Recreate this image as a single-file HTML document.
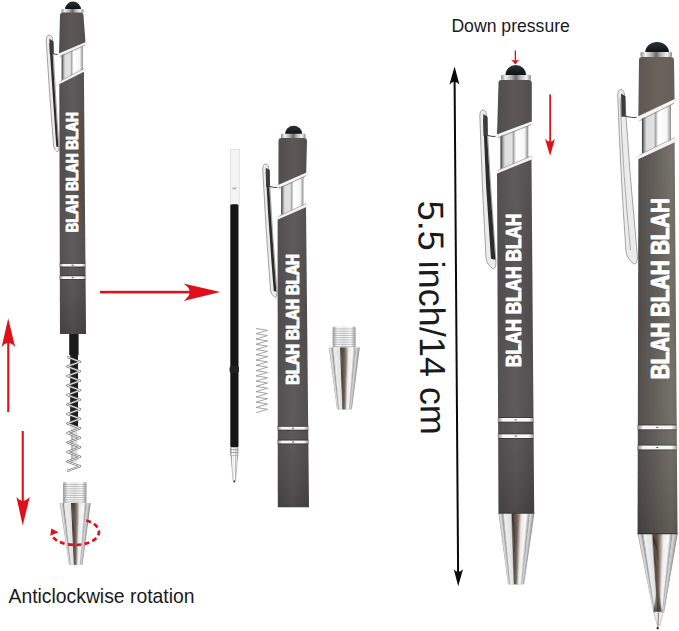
<!DOCTYPE html>
<html><head><meta charset="utf-8">
<style>
html,body{margin:0;padding:0;background:#fff;}
body{width:679px;height:631px;overflow:hidden;position:relative;}
svg{position:absolute;left:0;top:0;}
text{font-family:"Liberation Sans",sans-serif;}
</style></head>
<body>
<svg width="679" height="631" viewBox="0 0 679 631">
<defs>

  <linearGradient id="chrome" x1="0" y1="0" x2="1" y2="0">
    <stop offset="0" stop-color="#5a5a5a"/>
    <stop offset="0.1" stop-color="#bdbdbd"/>
    <stop offset="0.25" stop-color="#ffffff"/>
    <stop offset="0.42" stop-color="#e4e4e4"/>
    <stop offset="0.55" stop-color="#ffffff"/>
    <stop offset="0.7" stop-color="#b5b5b5"/>
    <stop offset="0.82" stop-color="#f6f6f6"/>
    <stop offset="1" stop-color="#707070"/>
  </linearGradient>
  <linearGradient id="inner" x1="0" y1="0" x2="1" y2="0">
    <stop offset="0" stop-color="#2e2e2e"/>
    <stop offset="0.08" stop-color="#9a9a9a"/>
    <stop offset="0.16" stop-color="#dedede"/>
    <stop offset="0.4" stop-color="#e2e2e2"/>
    <stop offset="0.47" stop-color="#a8a8a8"/>
    <stop offset="0.56" stop-color="#ffffff"/>
    <stop offset="0.86" stop-color="#f6f6f6"/>
    <stop offset="1" stop-color="#8a8a8a"/>
  </linearGradient>
  <linearGradient id="ring" x1="0" y1="0" x2="1" y2="0">
    <stop offset="0" stop-color="#8a8a8a"/>
    <stop offset="0.15" stop-color="#f6f6f6"/>
    <stop offset="0.85" stop-color="#f6f6f6"/>
    <stop offset="1" stop-color="#9a9a9a"/>
  </linearGradient>
  <linearGradient id="cone" x1="0" y1="0" x2="1" y2="0">
    <stop offset="0" stop-color="#9a9a9a"/>
    <stop offset="0.07" stop-color="#e6e6e6"/>
    <stop offset="0.13" stop-color="#9a9a9a"/>
    <stop offset="0.18" stop-color="#f0f0f0"/>
    <stop offset="0.34" stop-color="#e0e0e0"/>
    <stop offset="0.41" stop-color="#7a6656"/>
    <stop offset="0.47" stop-color="#5a4a40"/>
    <stop offset="0.54" stop-color="#9a8c80"/>
    <stop offset="0.63" stop-color="#f4f4f4"/>
    <stop offset="0.8" stop-color="#ffffff"/>
    <stop offset="0.9" stop-color="#c8c8c8"/>
    <stop offset="1" stop-color="#808080"/>
  </linearGradient>
  <linearGradient id="thread" x1="0" y1="0" x2="1" y2="0">
    <stop offset="0" stop-color="#9a9a9a"/>
    <stop offset="0.2" stop-color="#f8f8f8"/>
    <stop offset="0.5" stop-color="#e8e8e8"/>
    <stop offset="0.8" stop-color="#fcfcfc"/>
    <stop offset="1" stop-color="#9a9a9a"/>
  </linearGradient>
  <linearGradient id="stylus" x1="0" y1="0" x2="0" y2="1">
    <stop offset="0" stop-color="#2c3238"/>
    <stop offset="1" stop-color="#0e1216"/>
  </linearGradient>
  <linearGradient id="body" x1="0" y1="0" x2="1" y2="0">
    <stop offset="0" stop-color="#4f4b4c"/>
    <stop offset="0.5" stop-color="#5b5758"/>
    <stop offset="1" stop-color="#4d494a"/>
  </linearGradient>
  <linearGradient id="body4" x1="0" y1="0" x2="1" y2="0">
    <stop offset="0" stop-color="#4a4643"/>
    <stop offset="0.08" stop-color="#534d4a"/>
    <stop offset="0.4" stop-color="#5f5a55"/>
    <stop offset="0.85" stop-color="#726e66"/>
    <stop offset="1" stop-color="#68645d"/>
  </linearGradient>
  <linearGradient id="upper" x1="0" y1="0" x2="1" y2="0">
    <stop offset="0" stop-color="#524d4d"/>
    <stop offset="0.5" stop-color="#5d5857"/>
    <stop offset="1" stop-color="#534e4e"/>
  </linearGradient>
  <linearGradient id="upper4" x1="0" y1="0" x2="1" y2="0">
    <stop offset="0" stop-color="#5e5751"/>
    <stop offset="0.5" stop-color="#6a625b"/>
    <stop offset="1" stop-color="#675f58"/>
  </linearGradient>
  <linearGradient id="ringtop" x1="0" y1="0" x2="1" y2="0">
    <stop offset="0" stop-color="#8a8a8a"/>
    <stop offset="0.15" stop-color="#f2f2f2"/>
    <stop offset="0.35" stop-color="#b0b0b0"/>
    <stop offset="0.5" stop-color="#6a6a6a"/>
    <stop offset="0.65" stop-color="#b8b8b8"/>
    <stop offset="0.85" stop-color="#f2f2f2"/>
    <stop offset="1" stop-color="#8a8a8a"/>
  </linearGradient>
  <linearGradient id="vshade" x1="0" y1="0" x2="0" y2="1">
    <stop offset="0" stop-color="#ffffff" stop-opacity="0.03"/>
    <stop offset="0.45" stop-color="#ffffff" stop-opacity="0"/>
    <stop offset="1" stop-color="#000000" stop-opacity="0.16"/>
  </linearGradient>

</defs>
<g id="p1">
<path d="M46.2,40.12 Q46.5,35 49.4,35 Q52.6,35.3 52.6,41.4 Q55.2,93.5 59,148.76 Q58.7,152 57.38,152 Q54.14,149.84 53.6,146.06 Q49.3,93.5 46.2,40.12 Z" fill="#ececec" stroke="#808080" stroke-width="0.7"/>
<path d="M49.4,43.32 L52.1,43.32 Q54.7,93.5 58.4,147.14 L56.3,146.6 Q52.5,93.5 49.4,43.32 Z" fill="#2c2c2c"/>
<path d="M49.4,38.84 L53.6,41.4 L53.8,53 L49.72,54 Z" fill="#3c3c3c"/>
<path d="M51.6,53 Q55.8,55 60.5,54.5" stroke="#444" stroke-width="1" fill="none"/>
<path d="M65,9.5 A8,7.9 0 0 1 81,9.5 Z" fill="url(#stylus)"/>
<rect x="61.5" y="9" width="22" height="4" rx="1.2" fill="url(#ringtop)"/>
<path d="M60,15.5 Q60,12.5 63,12.5 L80.5,12.5 Q83.5,12.5 83.5,15.5 L85.5,42.7 L59,54.2 Z" fill="url(#upper)"/>
<path d="M61.65,53.14 L82.85,44.82 L82.85,71.5 L61.65,84.4 Z" fill="url(#inner)"/>
<path d="M59.3,83.4 L83.9,70.5 L86,334 L60,334 Z" fill="url(#body)"/>
<path d="M59.3,83.4 L83.9,70.5 L86,334 L60,334 Z" fill="url(#vshade)"/>
<path d="M58.7,54.95 L85.8,43.45" stroke="#f4f4f4" stroke-width="2.5" stroke-linecap="round"/>
<path d="M60,56.58 L85,45.08" stroke="#7a7a7a" stroke-width="0.7"/>
<path d="M59,82.9 L84.9,70" stroke="#f2f2f2" stroke-width="2.5" stroke-linecap="round"/>
<path d="M60.3,81.28 L83.9,68.38" stroke="#888" stroke-width="0.6"/>
<rect x="59.41" y="263.75" width="26.42" height="2.9" fill="url(#ring)"/>
<rect x="59.81" y="263.05" width="25.62" height="0.7" fill="#2a2a2a" opacity="0.7"/>
<rect x="59.81" y="266.65" width="25.62" height="0.7" fill="#2a2a2a" opacity="0.7"/>
<rect x="71.62" y="264.7" width="2" height="1" fill="#555"/>
<rect x="59.44" y="276.15" width="26.48" height="2.9" fill="url(#ring)"/>
<rect x="59.84" y="275.45" width="25.68" height="0.7" fill="#2a2a2a" opacity="0.7"/>
<rect x="59.84" y="279.05" width="25.68" height="0.7" fill="#2a2a2a" opacity="0.7"/>
<rect x="71.68" y="277.1" width="2" height="1" fill="#555"/>
<text transform="translate(78.05,171.8) rotate(-90) scale(0.82,1)" text-anchor="middle" font-weight="bold" font-size="16.5" fill="#fff" stroke="#fff" stroke-width="0.35">BLAH BLAH BLAH</text>
<text transform="translate(78.05,172.7) rotate(-90) scale(0.82,1)" text-anchor="middle" font-weight="bold" font-size="16.5" fill="#fff" stroke="#fff" stroke-width="0.35">BLAH BLAH BLAH</text>
</g>
<g id="p2">
<path d="M262.7,168.88 Q263,164 265.75,164 Q268.8,164.3 268.8,170.1 Q272.1,230.75 277,293.6 Q276.7,297.5 275.05,297.5 Q271.15,294.9 270.5,290.35 Q265.8,230.75 262.7,168.88 Z" fill="#ececec" stroke="#808080" stroke-width="0.7"/>
<path d="M265.75,171.93 L268.3,171.93 Q271.6,230.75 276.4,291.65 L273.75,291 Q268.85,230.75 265.75,171.93 Z" fill="#2c2c2c"/>
<path d="M265.75,167.66 L269.8,170.1 L270,186 L266.06,187 Z" fill="#3c3c3c"/>
<path d="M267.8,186 Q273.6,188 279.9,187.5" stroke="#444" stroke-width="1" fill="none"/>
<path d="M285,134.2 A8.65,8.4 0 0 1 302.3,134.2 Z" fill="url(#stylus)"/>
<rect x="281" y="133.8" width="24.5" height="4.7" rx="1.2" fill="url(#ringtop)"/>
<path d="M278.5,141 Q278.5,138 281.5,138 L304,138 Q307,138 307,141 L306.2,173.2 L278.4,185.6 Z" fill="url(#upper)"/>
<path d="M281.18,184.49 L303.42,175.42 L303.42,206.9 L281.18,219.8 Z" fill="url(#inner)"/>
<path d="M277.6,218.8 L306,205.9 L309,507.3 L277.8,507.3 Z" fill="url(#body)"/>
<path d="M277.6,218.8 L306,205.9 L309,507.3 L277.8,507.3 Z" fill="url(#vshade)"/>
<path d="M278.1,186.44 L306.5,174.04" stroke="#f4f4f4" stroke-width="2.8" stroke-linecap="round"/>
<path d="M279.4,188.26 L305.7,175.86" stroke="#7a7a7a" stroke-width="0.7"/>
<path d="M277.3,218.24 L307,205.34" stroke="#f2f2f2" stroke-width="2.8" stroke-linecap="round"/>
<path d="M278.6,216.42 L306,203.52" stroke="#888" stroke-width="0.6"/>
<rect x="277.35" y="426.6" width="31.23" height="3.2" fill="url(#ring)"/>
<rect x="277.75" y="425.9" width="30.43" height="0.7" fill="#2a2a2a" opacity="0.7"/>
<rect x="277.75" y="429.8" width="30.43" height="0.7" fill="#2a2a2a" opacity="0.7"/>
<rect x="291.96" y="427.7" width="2" height="1" fill="#555"/>
<rect x="277.35" y="440.4" width="31.37" height="3.2" fill="url(#ring)"/>
<rect x="277.75" y="439.7" width="30.57" height="0.7" fill="#2a2a2a" opacity="0.7"/>
<rect x="277.75" y="443.6" width="30.57" height="0.7" fill="#2a2a2a" opacity="0.7"/>
<rect x="292.04" y="441.5" width="2" height="1" fill="#555"/>
<text transform="translate(299.45,318.9) rotate(-90) scale(0.79,1)" text-anchor="middle" font-weight="bold" font-size="18.6" fill="#fff" stroke="#fff" stroke-width="0.35">BLAH BLAH BLAH</text>
<text transform="translate(299.45,319.8) rotate(-90) scale(0.79,1)" text-anchor="middle" font-weight="bold" font-size="18.6" fill="#fff" stroke="#fff" stroke-width="0.35">BLAH BLAH BLAH</text>
</g>
<g id="p3">
<path d="M479.8,115.44 Q480.1,110 483.2,110 Q486.6,110.3 486.6,116.8 Q490.5,189.4 496,262.8 Q495.7,268.8 493,268.8 Q487,264.8 486,257.8 Q482.1,189.4 479.8,115.44 Z" fill="#ececec" stroke="#808080" stroke-width="0.7"/>
<path d="M483.2,118.84 L486.1,118.84 Q490,189.4 495.4,259.8 L491,258.8 Q485.5,189.4 483.2,118.84 Z" fill="#2c2c2c"/>
<path d="M483.2,114.08 L487.6,116.8 L487.8,135 L483.54,136 Z" fill="#3c3c3c"/>
<path d="M485.6,135 Q491.8,137 498.5,136.5" stroke="#444" stroke-width="1" fill="none"/>
<path d="M505.2,75.5 A10.55,10.5 0 0 1 526.3,75.5 Z" fill="url(#stylus)"/>
<rect x="501" y="75" width="30" height="5" rx="1.2" fill="url(#ringtop)"/>
<path d="M498.5,83 Q498.5,80 501.5,80 L528.8,80 Q531.8,80 531.8,83 L531.8,121.9 L497,135.2 Z" fill="url(#upper)"/>
<path d="M500.48,133.81 L528.32,124.68 L528.32,159.2 L500.48,173.7 Z" fill="url(#inner)"/>
<path d="M497,172.7 L531.5,158.2 L534.2,513.6 L498.5,513.6 Z" fill="url(#body)"/>
<path d="M497,172.7 L531.5,158.2 L534.2,513.6 L498.5,513.6 Z" fill="url(#vshade)"/>
<path d="M496.7,136.04 L532.1,122.74" stroke="#f4f4f4" stroke-width="2.8" stroke-linecap="round"/>
<path d="M498,137.86 L531.3,124.56" stroke="#7a7a7a" stroke-width="0.7"/>
<path d="M496.7,172.14 L532.5,157.64" stroke="#f2f2f2" stroke-width="2.8" stroke-linecap="round"/>
<path d="M498,170.32 L531.5,155.82" stroke="#888" stroke-width="0.6"/>
<rect x="497.69" y="418" width="36.17" height="3.8" fill="url(#ring)"/>
<rect x="498.09" y="417.3" width="35.37" height="0.7" fill="#2a2a2a" opacity="0.7"/>
<rect x="498.09" y="421.8" width="35.37" height="0.7" fill="#2a2a2a" opacity="0.7"/>
<rect x="514.77" y="419.4" width="2" height="1" fill="#555"/>
<rect x="497.76" y="434.2" width="36.23" height="3.8" fill="url(#ring)"/>
<rect x="498.16" y="433.5" width="35.43" height="0.7" fill="#2a2a2a" opacity="0.7"/>
<rect x="498.16" y="438" width="35.43" height="0.7" fill="#2a2a2a" opacity="0.7"/>
<rect x="514.87" y="435.6" width="2" height="1" fill="#555"/>
<text transform="translate(521.35,289.95) rotate(-90) scale(0.8,1)" text-anchor="middle" font-weight="bold" font-size="21.6" fill="#fff" stroke="#fff" stroke-width="0.35">BLAH BLAH BLAH</text>
<text transform="translate(521.35,290.85) rotate(-90) scale(0.8,1)" text-anchor="middle" font-weight="bold" font-size="21.6" fill="#fff" stroke="#fff" stroke-width="0.35">BLAH BLAH BLAH</text>
<g><path d="M498.50,513.60 L534.20,513.60 L524.00,584.20 Q516.00,585.40 508.00,584.20 Z" fill="#d8d8d8"/><path d="M498.50,513.60 L499.54,513.60 L508.45,584.20 L508.00,584.20 Z" fill="#b2b2b2"/><path d="M499.39,513.60 L500.44,513.60 L508.85,584.20 L508.40,584.20 Z" fill="#d6d6d6"/><path d="M500.29,513.60 L501.33,513.60 L509.25,584.20 L508.80,584.20 Z" fill="#d7d7d7"/><path d="M501.18,513.60 L502.22,513.60 L509.65,584.20 L509.20,584.20 Z" fill="#b6b6b6"/><path d="M502.07,513.60 L503.11,513.60 L510.05,584.20 L509.60,584.20 Z" fill="#949494"/><path d="M502.96,513.60 L504.00,513.60 L510.45,584.20 L510.00,584.20 Z" fill="#b8b8b8"/><path d="M503.86,513.60 L504.90,513.60 L510.85,584.20 L510.40,584.20 Z" fill="#f2f2f2"/><path d="M504.75,513.60 L505.79,513.60 L511.25,584.20 L510.80,584.20 Z" fill="#f0f0f0"/><path d="M505.64,513.60 L506.68,513.60 L511.65,584.20 L511.20,584.20 Z" fill="#eeeeee"/><path d="M506.53,513.60 L507.57,513.60 L512.05,584.20 L511.60,584.20 Z" fill="#ebebeb"/><path d="M507.43,513.60 L508.47,513.60 L512.45,584.20 L512.00,584.20 Z" fill="#e9e9e9"/><path d="M508.32,513.60 L509.36,513.60 L512.85,584.20 L512.40,584.20 Z" fill="#e7e7e7"/><path d="M509.21,513.60 L510.25,513.60 L513.25,584.20 L512.80,584.20 Z" fill="#e5e5e5"/><path d="M510.10,513.60 L511.14,513.60 L513.65,584.20 L513.20,584.20 Z" fill="#e3e3e3"/><path d="M511.00,513.60 L512.04,513.60 L514.05,584.20 L513.60,584.20 Z" fill="#a6a19e"/><path d="M511.89,513.60 L512.93,513.60 L514.45,584.20 L514.00,584.20 Z" fill="#3a2c24"/><path d="M512.78,513.60 L513.82,513.60 L514.85,584.20 L514.40,584.20 Z" fill="#3f3027"/><path d="M513.67,513.60 L514.72,513.60 L515.25,584.20 L514.80,584.20 Z" fill="#43342a"/><path d="M514.57,513.60 L515.61,513.60 L515.65,584.20 L515.20,584.20 Z" fill="#47382d"/><path d="M515.46,513.60 L516.50,513.60 L516.05,584.20 L515.60,584.20 Z" fill="#4c3c30"/><path d="M516.35,513.60 L517.39,513.60 L516.45,584.20 L516.00,584.20 Z" fill="#5a4a3e"/><path d="M517.24,513.60 L518.28,513.60 L516.85,584.20 L516.40,584.20 Z" fill="#726256"/><path d="M518.13,513.60 L519.18,513.60 L517.25,584.20 L516.80,584.20 Z" fill="#89796d"/><path d="M519.03,513.60 L520.07,513.60 L517.65,584.20 L517.20,584.20 Z" fill="#a3948a"/><path d="M519.92,513.60 L520.96,513.60 L518.05,584.20 L517.60,584.20 Z" fill="#c0b8b1"/><path d="M520.81,513.60 L521.86,513.60 L518.45,584.20 L518.00,584.20 Z" fill="#dddad8"/><path d="M521.71,513.60 L522.75,513.60 L518.85,584.20 L518.40,584.20 Z" fill="#eeeeee"/><path d="M522.60,513.60 L523.64,513.60 L519.25,584.20 L518.80,584.20 Z" fill="#f1f1f1"/><path d="M523.49,513.60 L524.53,513.60 L519.65,584.20 L519.20,584.20 Z" fill="#f5f5f5"/><path d="M524.38,513.60 L525.43,513.60 L520.05,584.20 L519.60,584.20 Z" fill="#f9f9f9"/><path d="M525.28,513.60 L526.32,513.60 L520.45,584.20 L520.00,584.20 Z" fill="#fcfcfc"/><path d="M526.17,513.60 L527.21,513.60 L520.85,584.20 L520.40,584.20 Z" fill="#f6f6f6"/><path d="M527.06,513.60 L528.10,513.60 L521.25,584.20 L520.80,584.20 Z" fill="#d6d6d6"/><path d="M527.95,513.60 L529.00,513.60 L521.65,584.20 L521.20,584.20 Z" fill="#b6b6b6"/><path d="M528.85,513.60 L529.89,513.60 L522.05,584.20 L521.60,584.20 Z" fill="#9e9e9e"/><path d="M529.74,513.60 L530.78,513.60 L522.45,584.20 L522.00,584.20 Z" fill="#cacaca"/><path d="M530.63,513.60 L531.67,513.60 L522.85,584.20 L522.40,584.20 Z" fill="#d5d5d5"/><path d="M531.52,513.60 L532.57,513.60 L523.25,584.20 L522.80,584.20 Z" fill="#c0c0c0"/><path d="M532.42,513.60 L533.46,513.60 L523.65,584.20 L523.20,584.20 Z" fill="#aaaaaa"/><path d="M533.31,513.60 L534.35,513.60 L524.05,584.20 L523.60,584.20 Z" fill="#959595"/></g>
<rect x="498.5" y="512.8" width="35.7" height="1.2" fill="#222" opacity="0.6"/>
</g>
<g id="p4">
<path d="M617.7,94.94 Q618,89.5 621.1,89.5 Q624.5,89.8 624.5,96.3 Q629.8,176.75 637.5,257.1 Q637.2,264 634.05,264 Q627.15,259.4 626,251.35 Q620.65,176.75 617.7,94.94 Z" fill="#ececec" stroke="#808080" stroke-width="0.7"/>
<path d="M620.08,97.66 Q623.03,176.75 630.6,250.2" stroke="#9a9a9a" stroke-width="0.8" fill="none"/>
<path d="M621.1,93.58 L625.5,96.3 L625.7,116 L621.44,117 Z" fill="#3c3c3c"/>
<path d="M623.5,116 Q631.4,118 639.8,117.5" stroke="#444" stroke-width="1" fill="none"/>
<path d="M645.2,52.5 A11.9,10.6 0 0 1 669,52.5 Z" fill="url(#stylus)"/>
<rect x="640.5" y="52" width="31.5" height="5" rx="1.2" fill="url(#ringtop)"/>
<path d="M639,60 Q639,57 642,57 L671,57 Q674,57 674,60 L674.6,99.8 L638.3,117.4 Z" fill="url(#upper4)"/>
<path d="M641.93,115.95 L670.97,102.7 L670.97,141.7 L641.93,159 Z" fill="url(#inner)"/>
<path d="M638.4,158 L674.6,140.7 L677.5,534 L637.6,534 Z" fill="url(#body4)"/>
<path d="M638.4,158 L674.6,140.7 L677.5,534 L637.6,534 Z" fill="url(#vshade)"/>
<path d="M638,118.48 L674.9,100.88" stroke="#f4f4f4" stroke-width="3.6" stroke-linecap="round"/>
<path d="M639.3,120.82 L674.1,103.22" stroke="#7a7a7a" stroke-width="0.7"/>
<path d="M638.1,157.28 L675.6,139.98" stroke="#f2f2f2" stroke-width="3.6" stroke-linecap="round"/>
<path d="M639.4,154.94 L674.6,137.64" stroke="#888" stroke-width="0.6"/>
<rect x="637.43" y="425.3" width="39.65" height="4.2" fill="url(#ring)"/>
<rect x="637.83" y="424.6" width="38.85" height="0.7" fill="#2a2a2a" opacity="0.7"/>
<rect x="637.83" y="429.5" width="38.85" height="0.7" fill="#2a2a2a" opacity="0.7"/>
<rect x="656.25" y="426.9" width="2" height="1" fill="#555"/>
<rect x="637.38" y="445.4" width="39.85" height="4.2" fill="url(#ring)"/>
<rect x="637.78" y="444.7" width="39.05" height="0.7" fill="#2a2a2a" opacity="0.7"/>
<rect x="637.78" y="449.6" width="39.05" height="0.7" fill="#2a2a2a" opacity="0.7"/>
<rect x="656.31" y="447" width="2" height="1" fill="#555"/>
<text transform="translate(668.65,288.15) rotate(-90) scale(0.765,1)" text-anchor="middle" font-weight="bold" font-size="26.6" fill="#fff" stroke="#fff" stroke-width="0.35">BLAH BLAH BLAH</text>
<text transform="translate(668.65,289.05) rotate(-90) scale(0.765,1)" text-anchor="middle" font-weight="bold" font-size="26.6" fill="#fff" stroke="#fff" stroke-width="0.35">BLAH BLAH BLAH</text>
<g><path d="M637.60,534.00 L677.50,534.00 L664.00,612.50 Q658.75,613.70 653.50,612.50 Z" fill="#d8d8d8"/><path d="M637.60,534.00 L638.75,534.00 L653.81,612.50 L653.50,612.50 Z" fill="#b2b2b2"/><path d="M638.60,534.00 L639.75,534.00 L654.07,612.50 L653.76,612.50 Z" fill="#d6d6d6"/><path d="M639.60,534.00 L640.74,534.00 L654.34,612.50 L654.02,612.50 Z" fill="#d7d7d7"/><path d="M640.59,534.00 L641.74,534.00 L654.60,612.50 L654.29,612.50 Z" fill="#b6b6b6"/><path d="M641.59,534.00 L642.74,534.00 L654.86,612.50 L654.55,612.50 Z" fill="#949494"/><path d="M642.59,534.00 L643.74,534.00 L655.12,612.50 L654.81,612.50 Z" fill="#b8b8b8"/><path d="M643.59,534.00 L644.73,534.00 L655.39,612.50 L655.08,612.50 Z" fill="#f2f2f2"/><path d="M644.58,534.00 L645.73,534.00 L655.65,612.50 L655.34,612.50 Z" fill="#f0f0f0"/><path d="M645.58,534.00 L646.73,534.00 L655.91,612.50 L655.60,612.50 Z" fill="#eeeeee"/><path d="M646.58,534.00 L647.73,534.00 L656.17,612.50 L655.86,612.50 Z" fill="#ebebeb"/><path d="M647.58,534.00 L648.72,534.00 L656.44,612.50 L656.12,612.50 Z" fill="#e9e9e9"/><path d="M648.57,534.00 L649.72,534.00 L656.70,612.50 L656.39,612.50 Z" fill="#e7e7e7"/><path d="M649.57,534.00 L650.72,534.00 L656.96,612.50 L656.65,612.50 Z" fill="#e5e5e5"/><path d="M650.57,534.00 L651.72,534.00 L657.22,612.50 L656.91,612.50 Z" fill="#e3e3e3"/><path d="M651.57,534.00 L652.71,534.00 L657.49,612.50 L657.17,612.50 Z" fill="#a6a19e"/><path d="M652.56,534.00 L653.71,534.00 L657.75,612.50 L657.44,612.50 Z" fill="#3a2c24"/><path d="M653.56,534.00 L654.71,534.00 L658.01,612.50 L657.70,612.50 Z" fill="#3f3027"/><path d="M654.56,534.00 L655.71,534.00 L658.27,612.50 L657.96,612.50 Z" fill="#43342a"/><path d="M655.56,534.00 L656.70,534.00 L658.54,612.50 L658.23,612.50 Z" fill="#47382d"/><path d="M656.55,534.00 L657.70,534.00 L658.80,612.50 L658.49,612.50 Z" fill="#4c3c30"/><path d="M657.55,534.00 L658.70,534.00 L659.06,612.50 L658.75,612.50 Z" fill="#5a4a3e"/><path d="M658.55,534.00 L659.69,534.00 L659.32,612.50 L659.01,612.50 Z" fill="#726256"/><path d="M659.54,534.00 L660.69,534.00 L659.59,612.50 L659.27,612.50 Z" fill="#89796d"/><path d="M660.54,534.00 L661.69,534.00 L659.85,612.50 L659.54,612.50 Z" fill="#a3948a"/><path d="M661.54,534.00 L662.69,534.00 L660.11,612.50 L659.80,612.50 Z" fill="#c0b8b1"/><path d="M662.54,534.00 L663.68,534.00 L660.38,612.50 L660.06,612.50 Z" fill="#dddad8"/><path d="M663.53,534.00 L664.68,534.00 L660.64,612.50 L660.33,612.50 Z" fill="#eeeeee"/><path d="M664.53,534.00 L665.68,534.00 L660.90,612.50 L660.59,612.50 Z" fill="#f1f1f1"/><path d="M665.53,534.00 L666.68,534.00 L661.16,612.50 L660.85,612.50 Z" fill="#f5f5f5"/><path d="M666.53,534.00 L667.67,534.00 L661.42,612.50 L661.11,612.50 Z" fill="#f9f9f9"/><path d="M667.52,534.00 L668.67,534.00 L661.69,612.50 L661.38,612.50 Z" fill="#fcfcfc"/><path d="M668.52,534.00 L669.67,534.00 L661.95,612.50 L661.64,612.50 Z" fill="#f6f6f6"/><path d="M669.52,534.00 L670.67,534.00 L662.21,612.50 L661.90,612.50 Z" fill="#d6d6d6"/><path d="M670.52,534.00 L671.66,534.00 L662.47,612.50 L662.16,612.50 Z" fill="#b6b6b6"/><path d="M671.51,534.00 L672.66,534.00 L662.74,612.50 L662.42,612.50 Z" fill="#9e9e9e"/><path d="M672.51,534.00 L673.66,534.00 L663.00,612.50 L662.69,612.50 Z" fill="#cacaca"/><path d="M673.51,534.00 L674.66,534.00 L663.26,612.50 L662.95,612.50 Z" fill="#d5d5d5"/><path d="M674.51,534.00 L675.65,534.00 L663.52,612.50 L663.21,612.50 Z" fill="#c0c0c0"/><path d="M675.50,534.00 L676.65,534.00 L663.79,612.50 L663.48,612.50 Z" fill="#aaaaaa"/><path d="M676.50,534.00 L677.65,534.00 L664.05,612.50 L663.74,612.50 Z" fill="#959595"/></g>
<rect x="637.6" y="533.2" width="39.9" height="1.2" fill="#222" opacity="0.6"/>
</g>
<rect x="69.2" y="334" width="9.4" height="21" fill="#1b1b1b"/>
<rect x="70.2" y="354" width="7.8" height="72" fill="#1e1e1e"/><rect x="70.8" y="426" width="6.6" height="36" fill="#dcdcdc"/><rect x="71.5" y="430" width="1" height="30" fill="#999"/>
<path d="M67.2,357 L80.20,361.75 L67.20,366.50 L80.20,371.25 L67.20,376.00 L80.20,380.75 L67.20,385.50 L80.20,390.25 L67.20,395.00 L80.20,399.75 L67.20,404.50 L80.20,409.25 L67.20,414.00 L80.20,418.75 L67.20,423.50 L80.20,428.25 L67.20,433.00 L80.20,437.75 L67.20,442.50 L80.20,447.25 L67.20,452.00 L80.20,456.75 L67.20,461.50 L80.20,466.25 L67.20,471.00" stroke="#6a6a6a" stroke-width="2" fill="none" stroke-linejoin="round"/>
<path d="M67.2,357 L80.20,361.75 L67.20,366.50 L80.20,371.25 L67.20,376.00 L80.20,380.75 L67.20,385.50 L80.20,390.25 L67.20,395.00 L80.20,399.75 L67.20,404.50 L80.20,409.25 L67.20,414.00 L80.20,418.75 L67.20,423.50 L80.20,428.25 L67.20,433.00 L80.20,437.75 L67.20,442.50 L80.20,447.25 L67.20,452.00 L80.20,456.75 L67.20,461.50 L80.20,466.25 L67.20,471.00" stroke="#eeeeee" stroke-width="1" fill="none" stroke-linejoin="round"/>
<rect x="63" y="482" width="23.5" height="21.5" rx="1.5" fill="url(#thread)"/>
<rect x="63.5" y="484.0" width="22.5" height="0.8" fill="#8a8a8a" opacity="0.55"/>
<rect x="63.5" y="486.2" width="22.5" height="0.8" fill="#8a8a8a" opacity="0.55"/>
<rect x="63.5" y="488.4" width="22.5" height="0.8" fill="#8a8a8a" opacity="0.55"/>
<rect x="63.5" y="490.6" width="22.5" height="0.8" fill="#8a8a8a" opacity="0.55"/>
<rect x="63.5" y="492.8" width="22.5" height="0.8" fill="#8a8a8a" opacity="0.55"/>
<rect x="63.5" y="495.0" width="22.5" height="0.8" fill="#8a8a8a" opacity="0.55"/>
<rect x="63.5" y="497.2" width="22.5" height="0.8" fill="#8a8a8a" opacity="0.55"/>
<rect x="63.5" y="499.4" width="22.5" height="0.8" fill="#8a8a8a" opacity="0.55"/>
<rect x="63.5" y="501.6" width="22.5" height="0.8" fill="#8a8a8a" opacity="0.55"/>
<g><path d="M59.70,503.00 L90.60,503.00 L82.40,564.80 Q75.70,566.00 69.00,564.80 Z" fill="#d8d8d8"/><path d="M59.70,503.00 L60.88,503.00 L69.50,564.80 L69.00,564.80 Z" fill="#b8b8b8"/><path d="M60.73,503.00 L61.91,503.00 L69.94,564.80 L69.45,564.80 Z" fill="#e8e8e8"/><path d="M61.76,503.00 L62.94,503.00 L70.39,564.80 L69.89,564.80 Z" fill="#bbbbbb"/><path d="M62.79,503.00 L63.97,503.00 L70.84,564.80 L70.34,564.80 Z" fill="#8e8e8e"/><path d="M63.82,503.00 L65.00,503.00 L71.28,564.80 L70.79,564.80 Z" fill="#d8d8d8"/><path d="M64.85,503.00 L66.03,503.00 L71.73,564.80 L71.23,564.80 Z" fill="#f0f0f0"/><path d="M65.88,503.00 L67.06,503.00 L72.18,564.80 L71.68,564.80 Z" fill="#ededed"/><path d="M66.91,503.00 L68.09,503.00 L72.62,564.80 L72.13,564.80 Z" fill="#eaeaea"/><path d="M67.94,503.00 L69.12,503.00 L73.07,564.80 L72.57,564.80 Z" fill="#e8e8e8"/><path d="M68.97,503.00 L70.15,503.00 L73.52,564.80 L73.02,564.80 Z" fill="#e5e5e5"/><path d="M70.00,503.00 L71.18,503.00 L73.96,564.80 L73.47,564.80 Z" fill="#e2e2e2"/><path d="M71.03,503.00 L72.21,503.00 L74.41,564.80 L73.91,564.80 Z" fill="#42352d"/><path d="M72.06,503.00 L73.24,503.00 L74.86,564.80 L74.36,564.80 Z" fill="#403128"/><path d="M73.09,503.00 L74.27,503.00 L75.30,564.80 L74.81,564.80 Z" fill="#45362c"/><path d="M74.12,503.00 L75.30,503.00 L75.75,564.80 L75.25,564.80 Z" fill="#4b3b30"/><path d="M75.15,503.00 L76.33,503.00 L76.20,564.80 L75.70,564.80 Z" fill="#5e4e42"/><path d="M76.18,503.00 L77.36,503.00 L76.64,564.80 L76.15,564.80 Z" fill="#7e6e62"/><path d="M77.21,503.00 L78.39,503.00 L77.09,564.80 L76.59,564.80 Z" fill="#9e8f83"/><path d="M78.24,503.00 L79.42,503.00 L77.54,564.80 L77.04,564.80 Z" fill="#c5bdb8"/><path d="M79.27,503.00 L80.45,503.00 L77.98,564.80 L77.49,564.80 Z" fill="#ececec"/><path d="M80.30,503.00 L81.48,503.00 L78.43,564.80 L77.93,564.80 Z" fill="#f1f1f1"/><path d="M81.33,503.00 L82.51,503.00 L78.88,564.80 L78.38,564.80 Z" fill="#f6f6f6"/><path d="M82.36,503.00 L83.54,503.00 L79.32,564.80 L78.83,564.80 Z" fill="#fbfbfb"/><path d="M83.39,503.00 L84.57,503.00 L79.77,564.80 L79.27,564.80 Z" fill="#fbfbfb"/><path d="M84.42,503.00 L85.60,503.00 L80.22,564.80 L79.72,564.80 Z" fill="#d1d1d1"/><path d="M85.45,503.00 L86.63,503.00 L80.66,564.80 L80.17,564.80 Z" fill="#a7a7a7"/><path d="M86.48,503.00 L87.66,503.00 L81.11,564.80 L80.61,564.80 Z" fill="#c3c3c3"/><path d="M87.51,503.00 L88.69,503.00 L81.56,564.80 L81.06,564.80 Z" fill="#d2d2d2"/><path d="M88.54,503.00 L89.72,503.00 L82.00,564.80 L81.51,564.80 Z" fill="#b5b5b5"/><path d="M89.57,503.00 L90.75,503.00 L82.45,564.80 L81.95,564.80 Z" fill="#989898"/></g>
<rect x="230.5" y="149.5" width="8.8" height="55.5" fill="#f4f4f4" stroke="#dadada" stroke-width="0.7"/>
<rect x="230.3" y="204.2" width="8.2" height="243.4" rx="1.5" fill="#161616"/>
<path d="M232,187.5 L237,187.5 L236,189.5 L233,189.5 Z" fill="#bbb"/>
<rect x="229.6" y="366" width="9.4" height="7" rx="2" fill="#222"/>
<rect x="230.4" y="447.5" width="7.8" height="8" fill="url(#chrome)"/>
<rect x="230.4" y="449.5" width="7.8" height="0.6" fill="#777"/><rect x="230.4" y="452" width="7.8" height="0.6" fill="#777"/>
<path d="M231,455.5 L237.6,455.5 L235.6,480.5 L233,480.5 Z" fill="url(#chrome)" stroke="#8a8a8a" stroke-width="0.5"/>
<circle cx="234.3" cy="481.6" r="1" fill="#333"/>
<path d="M256,328.5 L267.5,330.34 L256,333.76 L267.5,335.60 L256,339.02 L267.5,340.87 L256,344.29 L267.5,346.13 L256,349.55 L267.5,351.39 L256,354.81 L267.5,356.65 L256,360.07 L267.5,361.92 L256,365.34 L267.5,367.18 L256,370.60 L267.5,372.44 L256,375.86 L267.5,377.70 L256,381.12 L267.5,382.97 L256,386.39 L267.5,388.23 L256,391.65 L267.5,393.49 L256,396.91 L267.5,398.75 L256,402.18 L267.5,404.02 L256,407.44 L267.5,409.28 L256,412.70" fill="none" stroke="#9a9a9a" stroke-width="0.9" stroke-linejoin="round"/>
<rect x="332.6" y="326.5" width="23" height="21" rx="1.5" fill="url(#thread)"/>
<rect x="333" y="328.5" width="22.2" height="0.8" fill="#8a8a8a" opacity="0.55"/>
<rect x="333" y="330.7" width="22.2" height="0.8" fill="#8a8a8a" opacity="0.55"/>
<rect x="333" y="332.9" width="22.2" height="0.8" fill="#8a8a8a" opacity="0.55"/>
<rect x="333" y="335.1" width="22.2" height="0.8" fill="#8a8a8a" opacity="0.55"/>
<rect x="333" y="337.3" width="22.2" height="0.8" fill="#8a8a8a" opacity="0.55"/>
<rect x="333" y="339.5" width="22.2" height="0.8" fill="#8a8a8a" opacity="0.55"/>
<rect x="333" y="341.7" width="22.2" height="0.8" fill="#8a8a8a" opacity="0.55"/>
<rect x="333" y="343.9" width="22.2" height="0.8" fill="#8a8a8a" opacity="0.55"/>
<rect x="333" y="346.1" width="22.2" height="0.8" fill="#8a8a8a" opacity="0.55"/>
<g><path d="M328.80,347.40 L359.60,347.40 L351.80,409.30 Q344.40,410.50 337.00,409.30 Z" fill="#d8d8d8"/><path d="M328.80,347.40 L329.98,347.40 L337.54,409.30 L337.00,409.30 Z" fill="#b8b8b8"/><path d="M329.83,347.40 L331.00,347.40 L338.04,409.30 L337.49,409.30 Z" fill="#e8e8e8"/><path d="M330.85,347.40 L332.03,347.40 L338.53,409.30 L337.99,409.30 Z" fill="#bbbbbb"/><path d="M331.88,347.40 L333.06,347.40 L339.02,409.30 L338.48,409.30 Z" fill="#8e8e8e"/><path d="M332.91,347.40 L334.08,347.40 L339.52,409.30 L338.97,409.30 Z" fill="#d8d8d8"/><path d="M333.93,347.40 L335.11,347.40 L340.01,409.30 L339.47,409.30 Z" fill="#f0f0f0"/><path d="M334.96,347.40 L336.14,347.40 L340.50,409.30 L339.96,409.30 Z" fill="#ededed"/><path d="M335.99,347.40 L337.16,347.40 L341.00,409.30 L340.45,409.30 Z" fill="#eaeaea"/><path d="M337.01,347.40 L338.19,347.40 L341.49,409.30 L340.95,409.30 Z" fill="#e8e8e8"/><path d="M338.04,347.40 L339.22,347.40 L341.98,409.30 L341.44,409.30 Z" fill="#e5e5e5"/><path d="M339.07,347.40 L340.24,347.40 L342.48,409.30 L341.93,409.30 Z" fill="#e2e2e2"/><path d="M340.09,347.40 L341.27,347.40 L342.97,409.30 L342.43,409.30 Z" fill="#42352d"/><path d="M341.12,347.40 L342.30,347.40 L343.46,409.30 L342.92,409.30 Z" fill="#403128"/><path d="M342.15,347.40 L343.32,347.40 L343.96,409.30 L343.41,409.30 Z" fill="#45362c"/><path d="M343.17,347.40 L344.35,347.40 L344.45,409.30 L343.91,409.30 Z" fill="#4b3b30"/><path d="M344.20,347.40 L345.38,347.40 L344.94,409.30 L344.40,409.30 Z" fill="#5e4e42"/><path d="M345.23,347.40 L346.40,347.40 L345.44,409.30 L344.89,409.30 Z" fill="#7e6e62"/><path d="M346.25,347.40 L347.43,347.40 L345.93,409.30 L345.39,409.30 Z" fill="#9e8f83"/><path d="M347.28,347.40 L348.46,347.40 L346.42,409.30 L345.88,409.30 Z" fill="#c5bdb8"/><path d="M348.31,347.40 L349.48,347.40 L346.92,409.30 L346.37,409.30 Z" fill="#ececec"/><path d="M349.33,347.40 L350.51,347.40 L347.41,409.30 L346.87,409.30 Z" fill="#f1f1f1"/><path d="M350.36,347.40 L351.54,347.40 L347.90,409.30 L347.36,409.30 Z" fill="#f6f6f6"/><path d="M351.39,347.40 L352.56,347.40 L348.40,409.30 L347.85,409.30 Z" fill="#fbfbfb"/><path d="M352.41,347.40 L353.59,347.40 L348.89,409.30 L348.35,409.30 Z" fill="#fbfbfb"/><path d="M353.44,347.40 L354.62,347.40 L349.38,409.30 L348.84,409.30 Z" fill="#d1d1d1"/><path d="M354.47,347.40 L355.64,347.40 L349.88,409.30 L349.33,409.30 Z" fill="#a7a7a7"/><path d="M355.49,347.40 L356.67,347.40 L350.37,409.30 L349.83,409.30 Z" fill="#c3c3c3"/><path d="M356.52,347.40 L357.70,347.40 L350.86,409.30 L350.32,409.30 Z" fill="#d2d2d2"/><path d="M357.55,347.40 L358.72,347.40 L351.36,409.30 L350.81,409.30 Z" fill="#b5b5b5"/><path d="M358.57,347.40 L359.75,347.40 L351.85,409.30 L351.31,409.30 Z" fill="#989898"/></g>
<linearGradient id="tipdark" x1="0" y1="0" x2="0" y2="1"><stop offset="0" stop-color="#3a3630" stop-opacity="0"/><stop offset="1" stop-color="#3a3630" stop-opacity="0.9"/></linearGradient>
<path d="M656.2,590 L659.4,590 L661.8,611.8 L653.4,611.8 Z" fill="url(#tipdark)"/>
<path d="M653.8,612 L663,612 L660.2,625 L657.2,625 Z" fill="#ececec" stroke="#9a9a9a" stroke-width="0.5"/>
<path d="M657.9,613 L658.6,613 L658.3,627 L657.7,627 Z" fill="#4a3e3a"/>
<circle cx="657.7" cy="628.1" r="1.2" fill="#222"/>
<g fill="#e0101a" stroke="none">
<rect x="100" y="290.8" width="92" height="2.6"/>
<path d="M220.3,292.1 L183.5,283.6 Q196,292.1 183.5,300.9 Z"/>
<rect x="7.2" y="338" width="2.1" height="74"/>
<path d="M8.2,318.2 L1.6,347.2 Q8.2,339 15.2,347.2 Z"/>
<rect x="21.7" y="431" width="2.1" height="74"/>
<path d="M22.7,525.6 L16.4,496.8 Q22.7,505 29.8,496.8 Z"/>
<rect x="514.7" y="50.5" width="1.3" height="11"/>
<path d="M515.3,64.4 L511.2,59.4 Q515.3,61.4 519.3,59.4 Z"/>
<rect x="549.3" y="94.4" width="1.7" height="50"/>
<path d="M550.1,156 L545,138.7 Q550.1,145 554.9,138.7 Z"/>
</g>
<path d="M86.27,520.52 A24,13 0 1 1 51.52,534.70" fill="none" stroke="#e0101a" stroke-width="2.7" stroke-dasharray="5,3.3"/>
<path d="M51.3,528.6 L58.6,532.2 L50.2,535.8 Z" fill="#e0101a"/>
<g fill="#0a0a0a">
<path d="M453.6,80 L455.6,80 L459.1,572 L457.1,572 Z"/>
<path d="M454.6,66.5 L449.4,84.4 Q454.6,79 459.4,84.4 Z"/>
<path d="M458.2,586.3 L453.8,569.2 Q458.2,574.5 463,569.2 Z"/>
</g>
<text transform="translate(451.4,31.6) scale(0.943,1)" font-size="18.7" fill="#1a1a1a">Down pressure</text>
<text x="8.5" y="602.8" font-size="19.35" fill="#1a1a1a">Anticlockwise rotation</text>
<text transform="translate(418.2,200.8) rotate(89.35)" font-size="36" fill="#1a1a1a">5.5 inch/14 cm</text>
</svg>
</body></html>
